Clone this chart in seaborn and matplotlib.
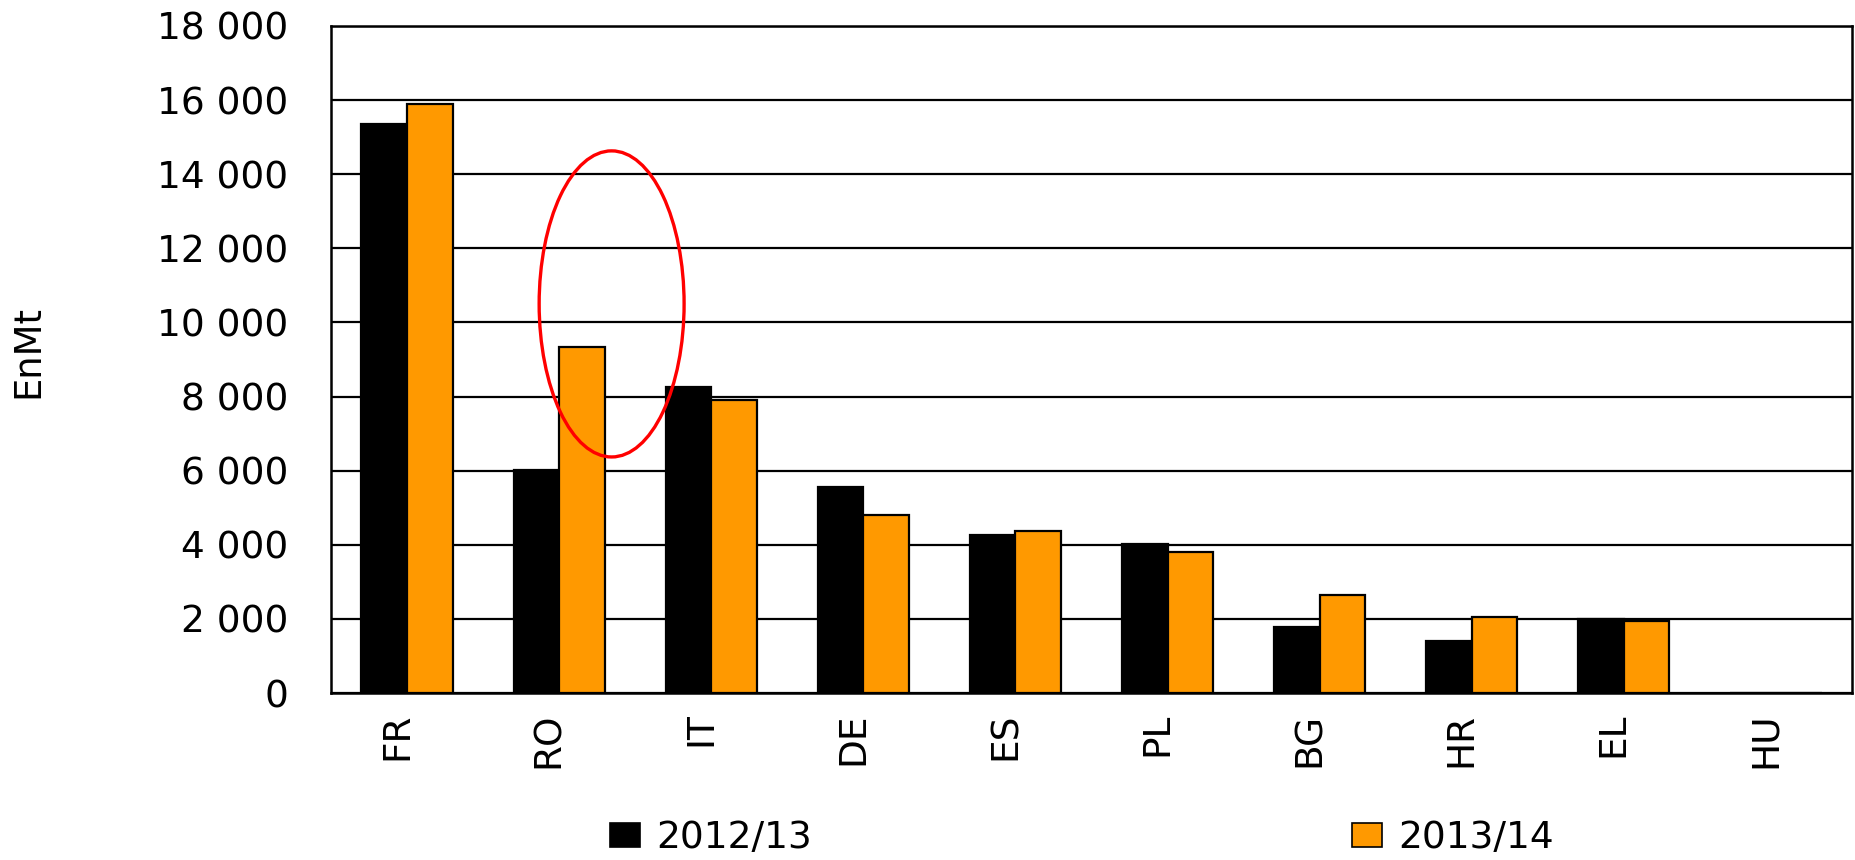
import matplotlib
matplotlib.use("Agg")
import matplotlib.pyplot as plt
import matplotlib.transforms as mtransforms
from matplotlib.patches import Ellipse, Patch
from matplotlib.ticker import FuncFormatter, MultipleLocator
import pandas as pd
import seaborn as sns

# ---- data ----
countries = ["FR", "RO", "IT", "DE", "ES", "PL", "BG", "HR", "EL", "HU"]
season_labels = ["2012/13", "2013/14"]
values_2012_13 = [15350, 6020, 8250, 5570, 4260, 4010, 1790, 1400, 1990, 0]
values_2013_14 = [15900, 9350, 7910, 4810, 4380, 3810, 2640, 2060, 1940, 0]
y_label = "EnMt"
colors = ["#000000", "#FF9900"]

df = pd.DataFrame({
    "country": countries * 2,
    "season": [season_labels[0]] * len(countries) + [season_labels[1]] * len(countries),
    "value": values_2012_13 + values_2013_14,
})

sns.set_theme(style="white")
plt.rcParams["font.family"] = ["DejaVu Sans"]
plt.rcParams["text.color"] = "black"

W, H = 1856, 860
fig = plt.figure(figsize=(W / 100, H / 100), dpi=100)
ax = fig.add_axes([331 / W, 1 - 693 / H, (1852 - 331) / W, (693 - 26) / H])

sns.barplot(data=df, x="country", y="value", hue="season", order=countries,
            hue_order=season_labels, palette=dict(zip(season_labels, colors)),
            width=0.6, gap=0, edgecolor="black", linewidth=1.6, errorbar=None,
            saturation=1, ax=ax, zorder=3)
ax.get_legend().remove()

ax.set_ylim(0, 18000)
ax.set_xlim(-0.5, len(countries) - 0.5)
ax.yaxis.set_major_locator(MultipleLocator(2000))
ax.yaxis.set_major_formatter(FuncFormatter(lambda v, p: f"{int(v):,}".replace(",", " ")))
ax.grid(axis="y", color="black", linewidth=1.6, zorder=0)
ax.set_axisbelow(True)
for s in ax.spines.values():
    s.set_visible(True)
    s.set_color("black")
    s.set_linewidth(1.8)

ax.tick_params(axis="y", labelsize=27, pad=31, length=0, colors="black")
ax.tick_params(axis="x", labelsize=27, pad=14, length=0, colors="black", labelrotation=90)
offset = mtransforms.ScaledTranslation(-10 / 100, 0, fig.dpi_scale_trans)
for lab in ax.get_xticklabels():
    lab.set_transform(lab.get_transform() + offset)
    lab.set_va("top")

ax.set_xlabel("")
ax.set_ylabel("")
fig.text(28 / W, 1 - 352 / H, y_label, rotation=90, fontsize=26.6,
         ha="center", va="center", color="black")

# highlight ellipse around RO 2013/14
ell = Ellipse((1.345, 10500), width=0.953, height=8260, fill=False,
              edgecolor="#FF0000", linewidth=2.4, zorder=5)
ax.add_patch(ell)

handles = [Patch(facecolor=c, edgecolor="black", linewidth=1.2) for c in colors]
fig.legend(handles, season_labels, ncol=2, loc="center left",
           bbox_to_anchor=(610 / W, 1 - 838 / H), frameon=False, fontsize=27,
           handlelength=0.8, handleheight=0.6, handletextpad=0.43,
           columnspacing=14.4, borderpad=0, borderaxespad=0, labelcolor="black")

fig.savefig("out.png", dpi=100, facecolor="white")
